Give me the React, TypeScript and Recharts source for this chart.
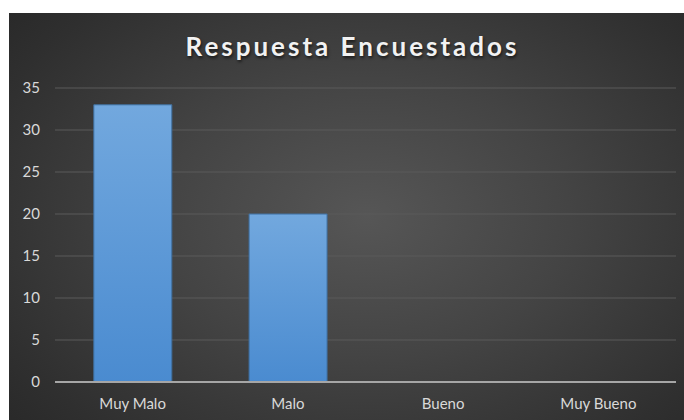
import React from 'react';
import { BarChart, Bar, XAxis, YAxis, CartesianGrid } from 'recharts';

const CATEGORIES = ['Muy Malo', 'Malo', 'Bueno', 'Muy Bueno'];
const RESPUESTAS = [33, 20, 0, 0];
const Y_TICKS = [0, 5, 10, 15, 20, 25, 30, 35];

const data = CATEGORIES.map((name, i) => ({ name, value: RESPUESTAS[i] }));

const FONT = 'Lato, "Open Sans", sans-serif';

export default function App() {
  return (
    <div
      style={{
        position: 'absolute',
        left: 9,
        top: 13,
        width: 675,
        height: 407,
        background:
          'radial-gradient(ellipse 75% 85% at 53% 50%, #565656 0%, #444444 40%, #2f2f2f 80%, #262626 100%)',
        fontFamily: FONT,
        overflow: 'hidden',
      }}
    >
      <div
        style={{
          position: 'absolute',
          left: 0,
          width: 687,
          top: 18,
          textAlign: 'center',
          color: '#f2f2f2',
          fontSize: 26,
          fontWeight: 700,
          letterSpacing: 3,
          textShadow: '1px 2px 3px rgba(0,0,0,0.6)',
          lineHeight: '30px',
        }}
      >
        Respuesta Encuestados
      </div>
      <BarChart
        width={675}
        height={407}
        data={data}
        margin={{ top: 75, right: 8, left: 0, bottom: 0 }}
        barCategoryGap="25%"
      >
        <defs>
          <linearGradient id="barFill" x1="0" y1="0" x2="0" y2="1">
            <stop offset="0%" stopColor="#72a8de" />
            <stop offset="100%" stopColor="#4a8bd0" />
          </linearGradient>
        </defs>
        <CartesianGrid vertical={false} stroke="#5a5a5a" strokeWidth={1} />
        <XAxis
          dataKey="name"
          height={38}
          axisLine={{ stroke: '#a6a6a6', strokeWidth: 2 }}
          tickLine={false}
          tickMargin={10}
          tick={{ fill: '#d9d9d9', fontSize: 15, fontFamily: FONT }}
        />
        <YAxis
          width={46}
          domain={[0, 35]}
          ticks={Y_TICKS}
          axisLine={false}
          tickLine={false}
          tickMargin={9}
          tick={{ fill: '#d9d9d9', fontSize: 15, fontFamily: FONT }}
        />
        <Bar
          dataKey="value"
          fill="url(#barFill)"
          stroke="#3f6f9f"
          strokeWidth={1}
          isAnimationActive={false}
        />
      </BarChart>
    </div>
  );
}
